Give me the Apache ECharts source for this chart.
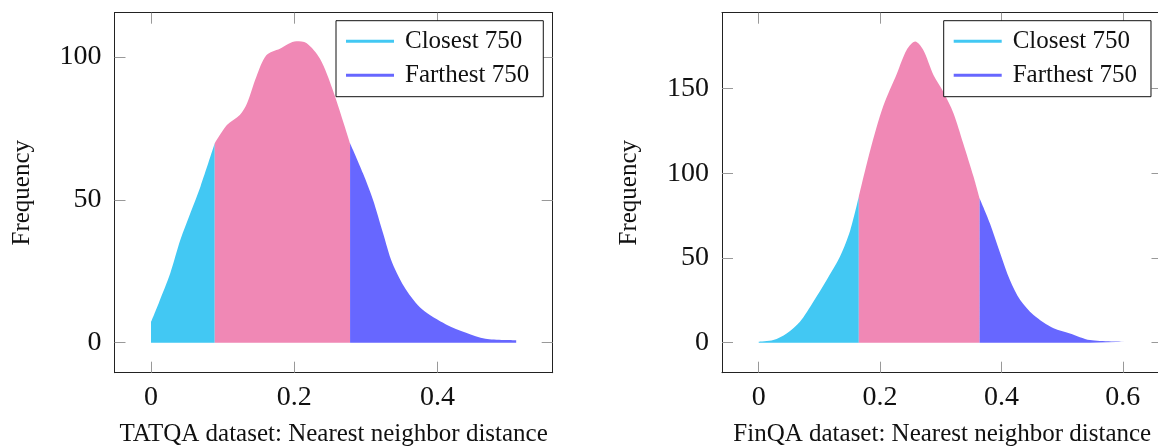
<!DOCTYPE html>
<html>
<head>
<meta charset="utf-8">
<script src="https://cdn.jsdelivr.net/npm/echarts@6/dist/echarts.min.js"></script>
<style>
  html, body { margin: 0; padding: 0; background: #fff; }
  #chart { width: 1158px; height: 448px; }
</style>
</head>
<body>
<div id="chart"></div>
<script>
// TATQA density, split into three parts
const tatClosest = [[0, 7.2], [0.011, 14.0], [0.027, 24.4], [0.041, 36.0], [0.055, 45.4], [0.069, 54.6], [0.089, 69.8]]
const tatMiddle = [[0.089, 69.8], [0.106, 76.2], [0.124, 79.7], [0.134, 83.7], [0.147, 93.0], [0.161, 100.6],
  [0.18, 102.9], [0.203, 105.5], [0.217, 104.9], [0.236, 99.4], [0.254, 88.4], [0.278, 69.8]]
const tatFarthest = [[0.278, 69.8], [0.296, 59.3], [0.31, 50.0], [0.324, 38.4], [0.337, 27.9], [0.356, 18.6],
  [0.379, 11.6], [0.412, 6.4], [0.44, 3.5], [0.467, 1.4], [0.51, 0.9]]

// FinQA density
const finClosest = [[0, 0.6], [0.024, 1.6], [0.046, 5.5], [0.068, 12.4], [0.09, 24.2], [0.112, 37.0],
  [0.134, 50.8], [0.151, 66.5], [0.165, 86.2]]
const finMiddle = [[0.165, 86.2], [0.184, 113.8], [0.205, 139.3], [0.228, 159.0], [0.244, 172.8], [0.258, 177.7],
  [0.271, 172.8], [0.288, 158.0], [0.304, 148.2], [0.321, 135.4], [0.337, 117.7], [0.354, 98.0], [0.364, 85.2]]
const finFarthest = [[0.364, 85.2], [0.381, 70.5], [0.398, 52.8], [0.414, 37.0], [0.431, 25.2], [0.453, 16.4],
  [0.486, 8.5], [0.513, 5.5], [0.546, 1.6], [0.604, 0.6]]

const tatXTicks = [0, 0.2, 0.4]
const tatYTicks = [0, 50, 100]
const finXTicks = [0, 0.2, 0.4, 0.6]
const finYTicks = [0, 50, 100, 150]

const legendNames = ['Closest 750', 'Farthest 750']
const xNames = ['TATQA dataset: Nearest neighbor distance', 'FinQA dataset: Nearest neighbor distance']

const serif = 'Liberation Serif'
const colCyan = '#42C8F3'
const colPink = '#F088B5'
const colBlue = '#6767FF'

const chart = echarts.init(document.getElementById('chart'))

function xAxisPair(grid, min, max, ticks, name) {
  return [
    {
      type: 'value', gridIndex: grid, position: 'bottom', min: min, max: max,
      axisLine: { show: true, onZero: false, lineStyle: { color: '#222', width: 1 } },
      axisTick: { show: true, inside: true, length: 11, customValues: ticks, lineStyle: { color: '#999' } },
      axisLabel: { customValues: ticks, margin: 11, fontSize: 28, fontFamily: serif, color: '#111' },
      splitLine: { show: false },
      name: name, nameLocation: 'middle', nameGap: 49,
      nameTextStyle: { fontSize: 25, fontFamily: serif, color: '#111' }
    },
    {
      type: 'value', gridIndex: grid, position: 'top', min: min, max: max,
      axisLine: { show: true, onZero: false, lineStyle: { color: '#222', width: 1 } },
      axisTick: { show: true, inside: true, length: 11, customValues: ticks, lineStyle: { color: '#999' } },
      axisLabel: { show: false },
      splitLine: { show: false }
    }
  ]
}

function yAxisPair(grid, min, max, ticks) {
  return [
    {
      type: 'value', gridIndex: grid, position: 'left', min: min, max: max,
      axisLine: { show: true, onZero: false, lineStyle: { color: '#222', width: 1 } },
      axisTick: { show: true, inside: true, length: 11, customValues: ticks, lineStyle: { color: '#999' } },
      axisLabel: { customValues: ticks, margin: 13, fontSize: 28, fontFamily: serif, color: '#111' },
      splitLine: { show: false },
      name: 'Frequency', nameLocation: 'middle', nameGap: 80,
      nameTextStyle: { fontSize: 25, fontFamily: serif, color: '#111' }
    },
    {
      type: 'value', gridIndex: grid, position: 'right', min: min, max: max,
      axisLine: { show: true, onZero: false, lineStyle: { color: '#222', width: 1 } },
      axisTick: { show: true, inside: true, length: 11, customValues: ticks, lineStyle: { color: '#999' } },
      axisLabel: { show: false },
      splitLine: { show: false }
    }
  ]
}

function part(name, data, color, xi, yi) {
  return {
    name: name, type: 'line', data: data, xAxisIndex: xi, yAxisIndex: yi,
    smooth: 0.3, showSymbol: false, symbol: 'none',
    color: color,
    lineStyle: { width: 0, color: color },
    areaStyle: { color: color, opacity: 1 },
    silent: true, animation: false
  }
}

function legendBox(left) {
  return {
    data: legendNames, orient: 'vertical', left: left, top: 20.7,
    icon: 'rect', itemWidth: 48, itemHeight: 3, itemGap: 9,
    padding: [8, 14, 9, 10],
    backgroundColor: '#fff', borderColor: '#111', borderWidth: 1, borderRadius: 0,
    textStyle: { fontSize: 25, fontFamily: serif, color: '#111', padding: [0, 0, 0, 6] },
    selectedMode: false
  }
}

const option = {
  animation: false,
  grid: [
    { left: 114.5, top: 12.7, width: 438.2, height: 360, containLabel: false, outerBoundsMode: 'none' },
    { left: 722, top: 12.7, width: 440.5, height: 360, containLabel: false, outerBoundsMode: 'none' }
  ],
  xAxis: [
    ...xAxisPair(0, -0.051, 0.561, tatXTicks, xNames[0]),
    ...xAxisPair(1, -0.0605, 0.6655, finXTicks, xNames[1])
  ],
  yAxis: [
    ...yAxisPair(0, -10.5, 115.5, tatYTicks),
    ...yAxisPair(1, -17.7, 194.7, finYTicks)
  ],
  legend: [legendBox(336), legendBox(943.7)],
  series: [
    part('Closest 750', tatClosest, colCyan, 0, 0),
    part('Middle', tatMiddle, colPink, 0, 0),
    part('Farthest 750', tatFarthest, colBlue, 0, 0),
    part('Closest 750', finClosest, colCyan, 2, 2),
    part('Middle', finMiddle, colPink, 2, 2),
    part('Farthest 750', finFarthest, colBlue, 2, 2)
  ]
}

chart.setOption(option)
</script>
</body>
</html>
